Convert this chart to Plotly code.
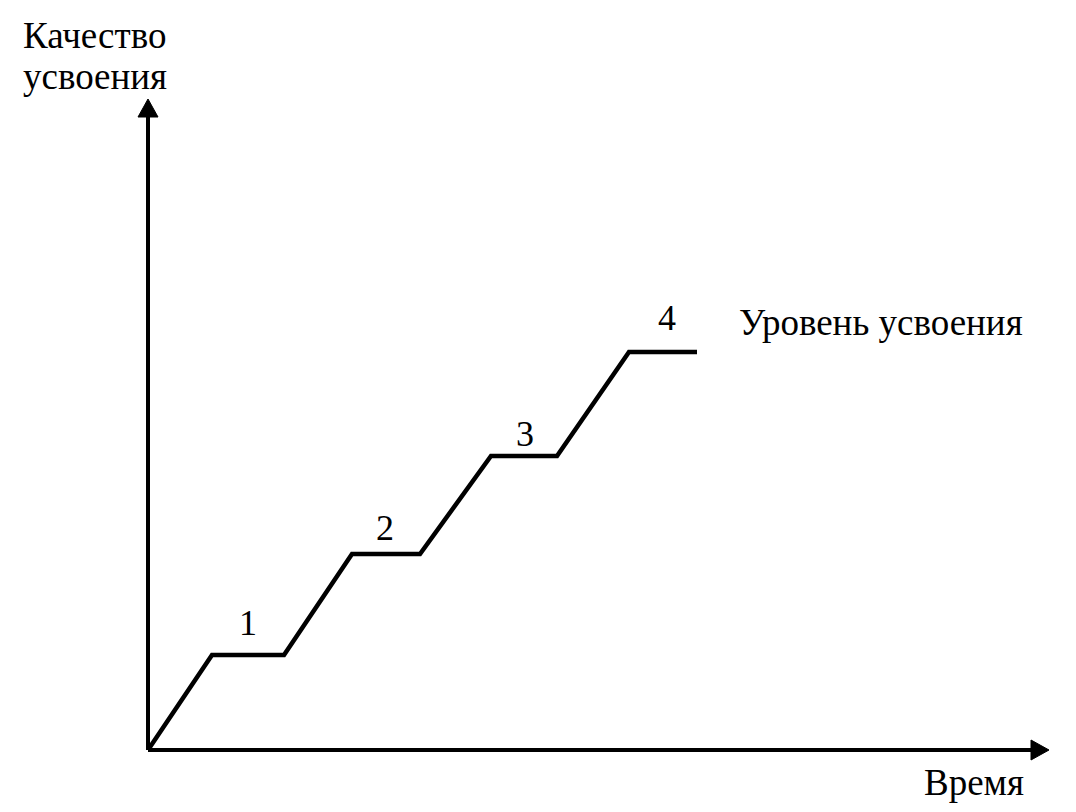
import plotly.graph_objects as go

# Step curve: time (x) vs quality of learning (y)
time_vals = [0, 64, 136, 204, 272, 343, 409, 481, 549]
quality_vals = [0, 95, 95, 196, 196, 294, 294, 398, 398]

# Stage labels and their positions (relative to origin)
stage_labels = ["1", "2", "3", "4"]
stage_x = [100, 237, 377, 519]
stage_y = [127, 222, 316, 432]

x_label = "Время"
y_label_lines = ["Качество", "усвоения"]
level_label = "Уровень усвоения"

FONT = "Liberation Serif, Times New Roman, serif"
FS = 37
PAGE_OFF = 8                 # body margin of the html page
W, H = 1076 - 2 * PAGE_OFF, 812 - 2 * PAGE_OFF
ox, oy = 148 - PAGE_OFF, 750 - PAGE_OFF  # figure-pixel position of origin

fig = go.Figure()
fig.add_trace(go.Scatter(
    x=time_vals, y=quality_vals, mode="lines",
    line=dict(color="black", width=4.5), hoverinfo="skip", showlegend=False,
))

shapes = []
shapes.append(dict(type="line", x0=0, y0=0, x1=0, y1=636, line=dict(color="black", width=4)))
shapes.append(dict(type="line", x0=0, y0=0, x1=886, y1=0, line=dict(color="black", width=4)))
shapes.append(dict(type="path", path="M -10 633 L 10 633 L 0 651 Z",
                   fillcolor="black", line=dict(color="black", width=1)))
shapes.append(dict(type="path", path="M 883 -10 L 883 10 L 901 0 Z",
                   fillcolor="black", line=dict(color="black", width=1)))

def txt(x, y, s, anchor="left", size=FS):
    return dict(x=x, y=y, text=s, showarrow=False, xanchor=anchor, yanchor="middle",
                font=dict(family=FONT, size=size, color="black"))

annotations = [txt(xx, yy, lab, "center", 36) for lab, xx, yy in zip(stage_labels, stage_x, stage_y)]
annotations.append(txt(737 - 148, 750 - 322, level_label))
annotations.append(txt(21 - 148, 750 - 35, y_label_lines[0]))
annotations.append(txt(21 - 148, 750 - 76, y_label_lines[1]))
annotations.append(txt(922 - 148, 750 - 782, x_label))

fig.update_layout(
    width=W, height=H,
    margin=dict(l=0, r=0, t=0, b=0),
    paper_bgcolor="white", plot_bgcolor="white",
    xaxis=dict(range=[-ox, W - ox], visible=False, fixedrange=True),
    yaxis=dict(range=[oy - H, oy], visible=False, fixedrange=True),
    shapes=shapes, annotations=annotations,
)
fig.write_html("out.html")
